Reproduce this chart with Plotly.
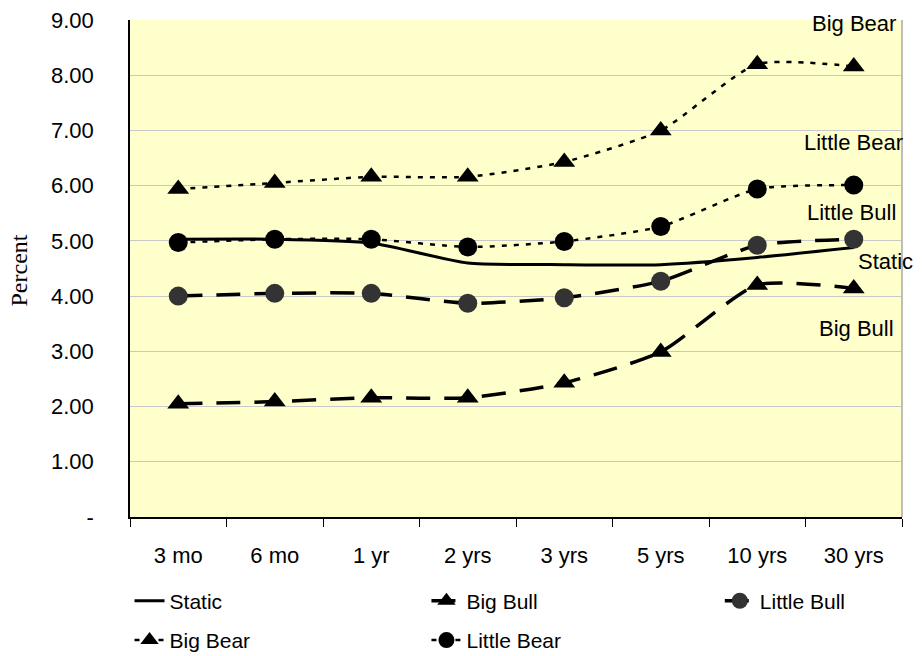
import plotly.graph_objects as go

categories = ["3 mo", "6 mo", "1 yr", "2 yrs", "3 yrs", "5 yrs", "10 yrs", "30 yrs"]
static = [5.03, 5.03, 4.96, 4.60, 4.57, 4.57, 4.70, 4.88]
big_bull = [2.05, 2.09, 2.16, 2.16, 2.43, 2.99, 4.20, 4.14]
little_bull = [4.00, 4.05, 4.05, 3.87, 3.97, 4.27, 4.92, 5.03]
big_bear = [5.94, 6.05, 6.16, 6.16, 6.43, 7.00, 8.20, 8.16]
little_bear = [4.97, 5.03, 5.03, 4.89, 4.99, 5.26, 5.94, 6.01]
y_tick_vals = [0, 1, 2, 3, 4, 5, 6, 7, 8, 9]
y_tick_text = ["-", "1.00", "2.00", "3.00", "4.00", "5.00", "6.00", "7.00", "8.00", "9.00"]

FONT = "Arial, Liberation Sans, sans-serif"
FS = 22
fig = go.Figure()

def add(name, vals, dash, width, legend, symbol=None, mcolor="black"):
    mode = "lines" if symbol is None else "lines+markers"
    fig.add_trace(go.Scatter(
        x=categories, y=vals, name=name, mode=mode, legend=legend, legendgroup=name,
        line=dict(color="black", width=width, dash=dash, shape="spline", smoothing=0.6),
        marker=dict(symbol=symbol, size=19, color=mcolor, line=dict(width=0)) if symbol else None,
    ))

add("Static", static, "solid", 3, "legend")
add("Big Bull", big_bull, "24px,14px", 3.5, "legend2", "triangle-up")
add("Little Bull", little_bull, "24px,14px", 3.5, "legend3", "circle", "#333333")
add("Big Bear", big_bear, "5px,7px", 2.5, "legend", "triangle-up")
add("Little Bear", little_bear, "5px,7px", 2.5, "legend2", "circle")

labels = [("Big Bear", 8.93, 0), ("Little Bear", 6.78, 0), ("Little Bull", 5.51, -2),
          ("Static", 4.62, 32), ("Big Bull", 3.42, 3)]
for txt, yv, xs in labels:
    fig.add_annotation(x="30 yrs", y=yv, xref="x", yref="y", text=txt, showarrow=False,
                       xshift=xs, font=dict(family=FONT, size=FS, color="black"))

fig.add_annotation(x=-0.1444, y=0.495, xref="paper", yref="paper", text="Percent",
                   showarrow=False, textangle=-90, xanchor="center", yanchor="middle",
                   font=dict(family="Liberation Serif, Times New Roman, serif", size=24,
                             color="black"))

fig.add_shape(type="line", xref="paper", yref="paper", x0=1, x1=1, y0=0, y1=1,
              line=dict(color="#BDBDBD", width=2))

leg = dict(orientation="v", yanchor="top", xanchor="left", y=-0.128, tracegroupgap=9,
           font=dict(family=FONT, size=21, color="black"), bgcolor="rgba(0,0,0,0)")

fig.update_layout(
    width=922, height=656, autosize=False,
    margin=dict(l=130, r=20, t=20, b=139, autoexpand=False),
    plot_bgcolor="#FFFFCC", paper_bgcolor="white",
    font=dict(family=FONT, size=FS, color="black"),
    showlegend=True,
    legend=dict(leg, x=-0.0006),
    legend2=dict(leg, x=0.384),
    legend3=dict(leg, x=0.764),
    xaxis=dict(type="category", range=[-0.5, 7.5], autorange=False,
               showline=True, linecolor="black", linewidth=1.5,
               ticks="outside", tickson="boundaries", ticklen=8, tickcolor="black",
               showgrid=False, ticklabelstandoff=18, automargin=False,
               tickfont=dict(family=FONT, size=FS, color="black")),
    yaxis=dict(range=[0, 9], tickvals=y_tick_vals, ticktext=y_tick_text,
               showline=True, linecolor="black", linewidth=1.5, ticks="",
               showgrid=True, gridcolor="#C8C8C8", gridwidth=1.2, zeroline=False,
               ticklabelstandoff=30, automargin=False, ticklabeloverflow="allow",
               tickfont=dict(family=FONT, size=FS, color="black")),
)

fig.write_html("out.html", config={"responsive": False, "displayModeBar": False},
               post_script="document.body.style.margin='0';document.body.style.overflow='hidden';")
